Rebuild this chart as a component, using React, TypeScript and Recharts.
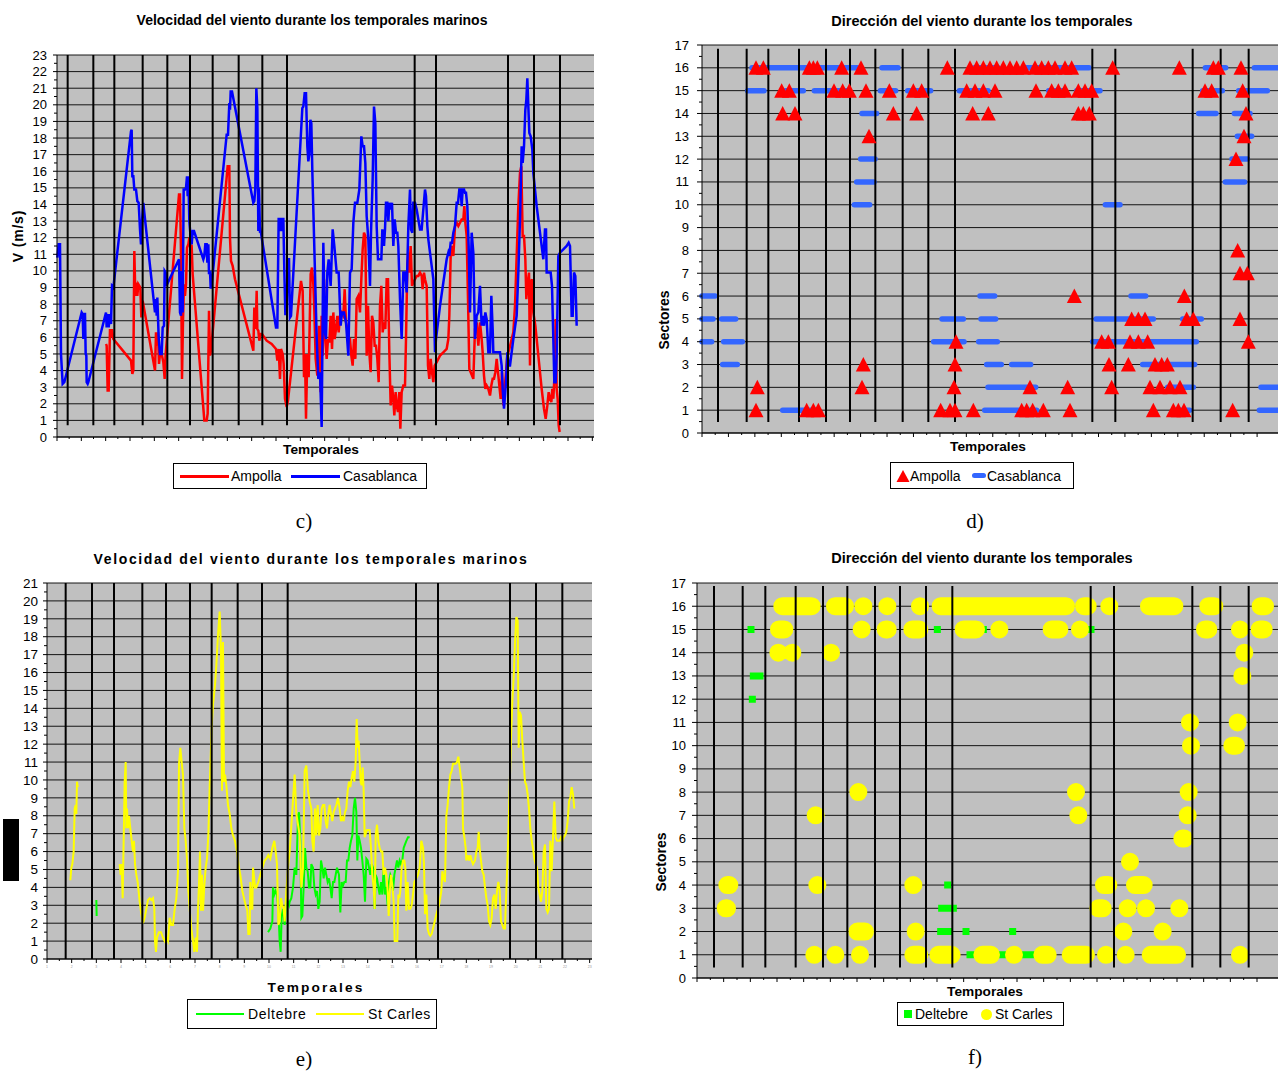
import React from "react";
import { ComposedChart, Line, XAxis, YAxis, CartesianGrid } from "recharts";

const FONT = "'Liberation Sans', Arial, Helvetica, sans-serif";
const SERIF = "'Liberation Serif', 'Times New Roman', serif";
const GRAY = "#C0C0C0";

type Pt = [number, number | null];
type Run = [number, number, number]; // [from hour, to hour, sector]

// ---------- c) wind speed (m/s), hourly record index ----------
const stormsC = [32, 109, 172, 257, 331, 399, 467, 545, 616, 690, 1073, 1137, 1353, 1431, 1509];
const ampollaV: Pt[] = [
  [147, 5.6], [149, 5.5], [152, 2.8], [155, 2.8], [159, 6.5], [162, 6.0], [165, 6.5], [169, 5.9], [222, 4.6], [226, 3.8],
  [229, 4.0], [232, 11.2], [235, 8.5], [238, 9.3], [241, 8.5], [244, 9.2], [247, 9.1], [250, 9.0], [253, 7.2], [257, 8.2],
  [294, 4.0], [297, 6.3], [300, 5.5], [303, 6.3], [306, 4.4], [309, 5], [314, 5], [319, 4.5], [323, 3.5], [326, 5],
  [366, 14.6], [369, 14.6], [372, 11], [375, 3.5], [378, 7], [381, 9.2], [384, 8.5], [387, 9.2], [390, 11.4], [394, 11.6],
  [397, 12], [401, 11.5], [404, 11.5], [407, 9.8], [442, 1.0], [446, 1.0], [449, 1.0], [452, 1.4], [456, 7.6], [459, 4.9],
  [462, 5.2], [512, 16.3], [517, 16.3], [519, 12], [522, 10.6], [527, 10.3], [534, 9.5], [589, 5.2], [592, 7.8], [596, 6.5],
  [599, 8.8], [601, 6.5], [604, 6.4], [607, 5.8], [611, 6.2], [615, 6.2], [629, 5.8], [644, 5.6], [657, 5.3], [661, 4.6],
  [665, 5.3], [669, 3.5], [672, 5.3], [677, 5.0], [680, 4.4], [684, 2.3], [689, 1.8], [693, 2.2], [732, 9.4], [737, 8.8],
  [741, 3.6], [744, 5], [747, 1.1], [751, 5], [755, 3.6], [761, 9.8], [765, 10.2], [769, 9.2], [772, 7.6], [776, 4.7],
  [781, 3.7], [786, 6.7], [789, 3.9], [791, 2.7], [794, 7.3], [797, 4.9], [801, 9.5], [805, 5.9], [809, 4.7], [813, 5.9],
  [817, 5.7], [821, 7.3], [825, 5.3], [829, 7.5], [833, 5.9], [837, 6.5], [841, 7.3], [845, 6.3], [849, 7.3], [854, 7.5],
  [859, 7.3], [863, 8.9], [867, 6.9], [871, 6.5], [875, 5.9], [879, 5.9], [883, 4.9], [887, 4.3], [891, 5.9], [895, 4.7],
  [899, 8.3], [904, 8.5], [909, 7.5], [913, 9.5], [917, 11.3], [921, 12.3], [925, 12.1], [929, 4.9], [933, 7.9], [937, 5.1],
  [941, 3.9], [945, 7.3], [949, 6.9], [953, 5.5], [957, 5.5], [961, 4.7], [965, 3.3], [969, 7.9], [973, 9.1], [977, 6.3],
  [981, 6.9], [985, 6.5], [989, 9.5], [993, 9.5], [997, 5.1], [1001, 1.9], [1005, 3.1], [1009, 2.3], [1012, 1.3], [1016, 2.7],
  [1019, 1.9], [1023, 1.5], [1027, 2.7], [1030, 0.5], [1034, 2.7], [1039, 3.1], [1044, 3.1], [1047, 5.9], [1051, 10.3], [1054, 11.1],
  [1057, 9.9], [1061, 11.5], [1065, 9.1], [1069, 9.3], [1074, 9.5], [1079, 9.7], [1084, 9.7], [1089, 9.9], [1094, 9.7], [1097, 8.9],
  [1101, 9.9], [1104, 9.5], [1109, 9.1], [1113, 4.3], [1117, 3.5], [1121, 4.7], [1125, 3.9], [1129, 3.3], [1133, 4.3], [1139, 4.5],
  [1149, 4.9], [1159, 5.1], [1169, 5.3], [1174, 5.9], [1177, 7.3], [1181, 10.9], [1185, 11.5], [1189, 10.9], [1194, 12.7], [1199, 12.9],
  [1204, 12.7], [1209, 12.9], [1214, 13.1], [1219, 13.1], [1222, 13.9], [1225, 12.9], [1229, 12.1], [1233, 8.3], [1237, 4.1], [1241, 3.9],
  [1245, 3.7], [1249, 3.5], [1254, 6.5], [1259, 6.9], [1264, 5.5], [1269, 6.9], [1274, 5.9], [1277, 5.1], [1281, 3.7], [1285, 2.9],
  [1289, 3.1], [1294, 2.9], [1299, 2.5], [1303, 3.1], [1307, 3.5], [1311, 3.5], [1315, 3.9], [1319, 4.7], [1324, 3.7], [1327, 3.1],
  [1331, 2.3], [1335, 3.9], [1339, 1.9], [1343, 2.9], [1347, 3.9], [1351, 4.9], [1357, 5.3], [1364, 5.9], [1369, 6.3], [1374, 7.9],
  [1379, 10.9], [1384, 13.9], [1389, 15.9], [1393, 16.3], [1397, 12.1], [1401, 12.1], [1405, 10.7], [1408, 8.3], [1412, 9.3], [1416, 9.9],
  [1419, 4.3], [1422, 9.3], [1425, 9.5], [1429, 7.5], [1435, 6.7], [1441, 5.5], [1447, 4.3], [1454, 2.9], [1461, 1.7], [1466, 1.1],
  [1471, 1.9], [1475, 2.7], [1479, 2.3], [1483, 2.1], [1486, 2.9], [1489, 2.3], [1493, 3.9], [1496, 7.1], [1499, 2.9], [1502, 2.3],
  [1505, 0.7], [1508, 0.3],
];
const casablancaV: Pt[] = [
  [1, 10.8], [5, 11.6], [9, 11.6], [12, 5], [17, 3.2], [22, 3.3], [74, 7.5], [77, 7.4], [79, 5.9], [82, 7.4],
  [84, 7.4], [86, 5.0], [88, 4.9], [89, 3.3], [92, 3.2], [94, 3.3], [147, 7.5], [149, 6.6], [152, 7.4], [155, 6.6],
  [159, 7.4], [162, 6.8], [165, 9.1], [169, 9.0], [222, 18.4], [224, 18.5], [226, 15.7], [229, 15.7], [232, 14.9], [237, 14.9],
  [241, 14.2], [245, 14.1], [249, 12.5], [252, 11.6], [255, 13], [259, 14.1], [262, 13.5], [294, 7.5], [297, 8.3], [299, 7.3],
  [301, 8.4], [305, 6], [309, 5], [314, 5], [317, 6.6], [321, 6.7], [323, 10], [326, 9.9], [328, 9.1], [366, 10.7],
  [369, 7.5], [372, 7.3], [374, 10], [377, 7.5], [380, 14.9], [384, 14.9], [387, 15], [390, 15.7], [392, 14.5], [394, 15.7],
  [397, 13], [401, 12], [404, 11.6], [407, 12.4], [411, 12.4], [439, 10.7], [442, 10.9], [445, 11.6], [449, 11.6], [451, 10.5],
  [454, 11.6], [456, 9.8], [459, 10], [461, 9], [463, 9], [509, 18.2], [513, 18.2], [517, 20.1], [519, 19.7], [521, 20.8],
  [525, 20.8], [589, 14.1], [592, 14.2], [595, 15], [598, 21], [601, 19.8], [604, 12.4], [606, 15], [609, 12.3], [611, 12.4],
  [657, 6.6], [661, 6.6], [665, 13.2], [669, 12.4], [672, 13.2], [676, 12.4], [679, 13.2], [682, 10], [685, 7.4], [689, 7.4],
  [692, 10.7], [696, 10.7], [699, 7.2], [702, 7.3], [736, 19.8], [739, 19.9], [743, 20.7], [747, 20.7], [751, 17.5], [754, 16.6],
  [757, 17], [760, 19.1], [763, 18.9], [766, 16], [779, 6], [784, 3.5], [789, 3.9], [794, 0.6], [799, 11.7], [804, 6.3],
  [807, 5.9], [811, 9.9], [815, 10.7], [821, 9.1], [827, 12.5], [832, 11.5], [839, 9.9], [845, 9.9], [851, 6.7], [855, 7.5],
  [861, 7.5], [867, 6.9], [874, 4.9], [879, 9.9], [884, 10.1], [889, 12.9], [894, 14.1], [901, 14.1], [907, 14.9], [913, 18.1],
  [917, 17.5], [921, 17.5], [925, 16.5], [929, 13.3], [934, 11.9], [939, 9.1], [942, 12.3], [947, 15.5], [951, 19.9], [955, 18.9],
  [959, 12.7], [963, 10.7], [969, 10.7], [973, 10.7], [976, 12.5], [981, 11.5], [984, 12.5], [987, 14.1], [991, 14.1], [994, 13],
  [997, 14.1], [1001, 13.7], [1005, 14.1], [1009, 11.5], [1013, 13.1], [1017, 12.3], [1021, 12.3], [1024, 11.5], [1029, 8.3], [1034, 5.9],
  [1039, 9.9], [1044, 9.9], [1049, 8.7], [1054, 12.7], [1059, 14.9], [1062, 12.5], [1066, 12.3], [1069, 14.1], [1074, 14.1], [1079, 13.7],
  [1084, 13.1], [1089, 12.5], [1094, 12.5], [1099, 13.7], [1104, 14.9], [1107, 14.5], [1111, 12.7], [1114, 11.9], [1119, 11.1], [1124, 10.3],
  [1129, 9.5], [1134, 5.1], [1137, 5.9], [1149, 7.9], [1159, 9.3], [1169, 10.7], [1174, 11.1], [1177, 10.9], [1181, 11.7], [1185, 11.7],
  [1189, 12.3], [1194, 12.7], [1199, 14.1], [1203, 14.1], [1207, 14.9], [1211, 14.9], [1214, 13.9], [1217, 14.9], [1221, 14.9], [1224, 14.7],
  [1227, 14.7], [1231, 13.9], [1235, 11.5], [1239, 7.5], [1244, 12.3], [1249, 11.1], [1254, 5.9], [1259, 7.3], [1264, 7.5], [1269, 9.1],
  [1274, 6.7], [1277, 7.3], [1281, 6.7], [1285, 7.5], [1289, 7.1], [1294, 5.1], [1299, 5.1], [1303, 8.5], [1307, 6.5], [1309, 5.1],
  [1329, 5.1], [1334, 4.3], [1337, 2.9], [1341, 1.7], [1344, 2.5], [1347, 3.3], [1351, 5.1], [1355, 4.3], [1359, 4.3], [1369, 5.9],
  [1379, 7.3], [1384, 9.9], [1389, 13.1], [1394, 17.5], [1397, 16.5], [1401, 17.5], [1405, 19.7], [1408, 20.3], [1411, 21.6], [1414, 19.9],
  [1417, 18.3], [1421, 18.1], [1426, 17.3], [1429, 15.9], [1439, 13.9], [1449, 12.3], [1459, 10.7], [1464, 12.5], [1467, 12.5], [1469, 9.9],
  [1474, 9.9], [1481, 9.9], [1485, 9.1], [1489, 5.9], [1492, 3.3], [1496, 3.3], [1499, 4.9], [1504, 10.9], [1509, 11.1], [1519, 11.3],
  [1529, 11.5], [1535, 11.7], [1539, 11.5], [1544, 7.3], [1547, 7.3], [1551, 9.9], [1555, 9.7], [1559, 6.7],
];

// ---------- d) wind direction sectors ----------
const stormsD = [48, 134, 199, 291, 372, 444, 520, 602, 679, 759, 1171, 1240, 1472, 1556, 1640];
const ampollaDir: [number, number][] = [
  [162, 16], [184, 16], [322, 16], [334, 16], [346, 16], [419, 16], [477, 16], [736, 16], [804, 16], [824, 16], [844, 16], [864, 16],
  [884, 16], [904, 16], [924, 16], [944, 16], [964, 16], [999, 16], [1019, 16], [1039, 16], [1059, 16], [1089, 16], [1109, 16],
  [1232, 16], [1432, 16], [1534, 16], [1549, 16], [1617, 16],
  [239, 15], [262, 15], [396, 15], [422, 15], [442, 15], [492, 15], [562, 15], [634, 15], [659, 15], [794, 15], [819, 15], [844, 15],
  [879, 15], [1002, 15], [1049, 15], [1069, 15], [1089, 15], [1129, 15], [1149, 15], [1169, 15], [1509, 15], [1529, 15], [1622, 15],
  [242, 14], [279, 14], [574, 14], [644, 14], [812, 14], [859, 14], [1129, 14], [1144, 14], [1162, 14], [1632, 14],
  [501, 13], [1626, 13], [1602, 12], [1607, 8], [1614, 7], [1636, 7], [1117, 6], [1447, 6],
  [1289, 5], [1309, 5], [1329, 5], [1454, 5], [1474, 5], [1614, 5],
  [762, 4], [1199, 4], [1219, 4], [1284, 4], [1309, 4], [1337, 4], [1639, 4],
  [484, 3], [759, 3], [1221, 3], [1279, 3], [1359, 3], [1379, 3], [1396, 3],
  [166, 2], [480, 2], [756, 2], [984, 2], [1097, 2], [1229, 2], [1344, 2], [1374, 2], [1404, 2], [1434, 2],
  [162, 1], [314, 1], [334, 1], [349, 1], [716, 1], [744, 1], [759, 1], [814, 1], [959, 1], [974, 1], [992, 1], [1024, 1],
  [1104, 1], [1354, 1], [1414, 1], [1429, 1], [1446, 1], [1592, 1],
];
const casablancaDir: Run[] = [
  [0, 39, 6], [0, 33, 5], [59, 101, 5], [0, 29, 4], [65, 121, 4], [62, 106, 3], [150, 466, 16], [540, 588, 16],
  [137, 186, 15], [250, 304, 15], [337, 436, 15], [535, 581, 15], [617, 686, 15], [480, 524, 14], [476, 519, 12],
  [464, 516, 11], [457, 503, 10], [242, 341, 1], [720, 784, 5], [695, 786, 4], [817, 888, 16], [965, 1161, 16],
  [1510, 1571, 16], [1657, 1728, 16], [772, 858, 15], [1040, 1084, 15], [1124, 1194, 15], [1502, 1561, 15], [1610, 1696, 15],
  [1490, 1542, 14], [1597, 1644, 14], [1606, 1649, 13], [1590, 1636, 12], [1570, 1628, 11], [1210, 1254, 10],
  [834, 878, 6], [1287, 1331, 6], [837, 881, 5], [1182, 1354, 5], [1442, 1498, 5], [830, 886, 4], [1172, 1483, 4],
  [854, 898, 3], [929, 986, 3], [1322, 1478, 3], [858, 1001, 2], [1397, 1474, 2], [1677, 1728, 2],
  [848, 1004, 1], [1414, 1463, 1], [1672, 1728, 1],
];

// ---------- e) wind speed (m/s) Deltebre / St Carles ----------
const stormsE = [56, 135, 201, 286, 357, 429, 494, 572, 645, 722, 1107, 1173, 1389, 1467, 1546];
const deltebreV: Pt[] = [
  [148, 3.3], [149, 2.4], [150, null],
  [663, 1.5], [670, 1.7], [676, 2.1], [678, 4.0], [682, 3.6], [686, 3.8], [690, 3.6], [694, 2.8], [698, 1.0], [701, 0.4],
  [704, 2.4], [708, 2.8], [713, 1.9], [718, 3.4], [722, 3.2], [726, 3.0], [728, 3.2], [733, 3.4], [738, 4.0], [743, 5.1],
  [748, 4.7], [753, 8.0], [756, 8.2], [760, 6.6], [763, 2.3], [766, 2.4], [770, 4.0], [774, 6.2], [778, 5.1], [782, 4.9],
  [786, 4.0], [790, 4.0], [793, 5.3], [798, 5.1], [802, 4.0], [806, 3.6], [810, 3.8], [814, 2.8], [818, 3.2], [822, 5.5],
  [826, 5.1], [830, 4.5], [834, 5.1], [838, 4.7], [842, 4.3], [846, 4.5], [850, 4.0], [854, 3.4], [858, 4.3], [862, 4.3],
  [866, 4.7], [870, 5.1], [876, 4.7], [880, 2.6], [884, 4.3], [888, 4.1], [892, 4.3], [896, 4.3], [900, 5.5], [904, 5.5],
  [908, 6.2], [912, 6.6], [916, 6.9], [920, 8.4], [924, 9.0], [928, 8.2], [931, 5.5], [934, 6.9], [938, 6.6], [942, 6.2],
  [946, 5.5], [950, 4.7], [954, 3.2], [958, 5.6], [962, 5.5], [966, 5.1], [970, 4.7], [974, 5.3], [978, 5.1], [983, 2.8],
  [986, 4.7], [990, 4.5], [994, 4.0], [998, 3.6], [1002, 4.3], [1006, 3.6], [1010, 5.1], [1014, 3.6], [1018, 4.0], [1022, 3.0],
  [1026, 4.3], [1030, 4.7], [1034, 4.5], [1038, 3.8], [1042, 4.7], [1046, 5.1], [1050, 5.5], [1054, 5.1], [1058, 5.5], [1062, 5.3],
  [1066, 5.5], [1070, 6.2], [1074, 6.4], [1078, 6.6], [1083, 6.8], [1088, 6.8],
];
const stCarlesV: Pt[] = [
  [70, 4.4], [73, 5.1], [76, 5.3], [80, 6.0], [83, 8.4], [86, 8.6], [88, 8.1], [90, 9.9], [92, 9.6], [93, null],
  [218, 5.3], [221, 4.7], [224, 5.3], [227, 3.4], [230, 6.6], [233, 9.9], [236, 11.0], [238, 7.3], [240, 8.4], [243, 7.3],
  [246, 8.0], [250, 7.3], [254, 6.6], [258, 6.0], [261, 6.6], [264, 5.3], [268, 4.7], [272, 4.3], [278, 3.2], [283, 2.5],
  [288, 2.0], [293, 2.3], [298, 2.8], [303, 3.3], [308, 3.4], [313, 3.3], [318, 3.4], [322, 2.8], [324, 1.0], [327, 0.4],
  [330, 1.2], [336, 1.5], [342, 1.5], [348, 1.2], [353, 1.0], [358, 1.2], [363, 1.0], [368, 2.3], [373, 1.9], [378, 1.9],
  [383, 2.8], [388, 3.4], [393, 4.9], [396, 10.9], [400, 11.8], [404, 11.0], [408, 10.3], [412, 7.3], [416, 6.6], [420, 5.6],
  [424, 3.8], [428, 2.8], [433, 1.7], [438, 1.0], [442, 0.4], [446, 1.2], [450, 0.4], [453, 2.8], [456, 4.2], [459, 6.0],
  [462, 2.7], [465, 4.7], [468, 2.7], [472, 4.1], [476, 5.1], [480, 5.6], [484, 6.9], [488, 9.6], [494, 12.9], [498, 14.2],
  [504, 15.3], [508, 16.4], [513, 18.1], [518, 19.4], [522, 17.2], [525, 9.4], [528, 17.7], [531, 9.9], [534, 10.3], [538, 9.7],
  [543, 8.6], [548, 8.1], [553, 7.3], [558, 6.9], [564, 6.6], [570, 6.0], [576, 5.1], [580, 4.7], [586, 3.8], [591, 3.4],
  [596, 3.0], [601, 2.7], [604, 1.4], [608, 1.4], [610, 4.3], [613, 2.8], [616, 2.8], [618, 5.1], [621, 4.6], [624, 4.0],
  [628, 4.0], [634, 4.3], [640, 4.7], [646, 5.1], [653, 5.5], [658, 5.6], [664, 5.8], [670, 5.6], [676, 6.2], [682, 6.6],
  [686, 6.0], [690, 5.3], [694, 1.9], [698, 2.1], [702, 3.4], [706, 3.0], [710, 2.8], [713, 2.1], [718, 3.8], [723, 5.1],
  [728, 6.0], [743, 10.3], [748, 8.1], [758, 6.9], [763, 4.0], [768, 5.1], [773, 10.5], [778, 10.8], [783, 9.4], [788, 8.8],
  [793, 8.4], [796, 6.6], [800, 6.0], [804, 8.4], [808, 6.9], [812, 8.6], [816, 6.9], [820, 7.3], [824, 8.4], [828, 8.6],
  [832, 8.6], [836, 7.7], [840, 7.3], [844, 8.1], [848, 8.6], [852, 8.1], [856, 7.7], [860, 8.2], [864, 8.4], [868, 8.6],
  [873, 9.0], [878, 8.4], [882, 7.7], [886, 7.9], [890, 7.7], [894, 8.2], [898, 8.4], [902, 9.4], [906, 9.9], [910, 9.6],
  [914, 10.1], [918, 10.5], [922, 9.9], [926, 11.0], [929, 13.4], [932, 11.8], [935, 12.2], [938, 11.0], [941, 9.9], [944, 9.7],
  [947, 10.7], [950, 9.4], [953, 6.8], [956, 7.0], [960, 7.2], [964, 7.2], [968, 7.2], [972, 6.2], [976, 4.7], [980, 4.0],
  [983, 2.8], [986, 6.9], [990, 7.5], [994, 6.6], [998, 6.2], [1002, 6.0], [1006, 6.0], [1010, 4.7], [1014, 5.1], [1018, 4.7],
  [1022, 3.8], [1025, 2.4], [1028, 3.6], [1032, 4.7], [1036, 4.1], [1040, 3.2], [1043, 1.0], [1048, 1.0], [1051, 1.0], [1054, 3.6],
  [1057, 3.4], [1060, 3.8], [1064, 5.1], [1068, 5.5], [1072, 5.5], [1075, 5.1], [1078, 2.7], [1082, 4.3], [1086, 2.8], [1090, 2.8],
  [1094, 3.0], [1098, 3.6], [1102, 4.3], [1113, 4.7], [1118, 5.1], [1123, 6.6], [1128, 6.2], [1131, 5.3], [1134, 2.5], [1138, 3.6],
  [1142, 1.7], [1146, 1.4], [1150, 1.3], [1154, 1.4], [1158, 1.7], [1163, 2.1], [1168, 2.5], [1173, 2.8], [1178, 3.2], [1183, 3.8],
  [1186, 4.9], [1190, 4.5], [1194, 4.3], [1198, 8.0], [1202, 8.6], [1206, 9.6], [1210, 10.3], [1214, 10.5], [1218, 10.9], [1222, 10.9],
  [1226, 10.9], [1230, 11.0], [1234, 11.3], [1238, 10.7], [1242, 10.1], [1246, 9.6], [1248, 7.3], [1252, 6.8], [1256, 6.2], [1258, 5.5],
  [1262, 5.8], [1266, 5.5], [1270, 5.8], [1274, 5.5], [1278, 5.3], [1284, 5.5], [1288, 6.0], [1292, 6.2], [1295, 7.1], [1298, 6.2],
  [1302, 5.5], [1306, 4.9], [1310, 4.7], [1314, 4.0], [1318, 3.4], [1322, 3.0], [1326, 2.1], [1330, 1.9], [1334, 2.3], [1338, 3.4],
  [1342, 3.6], [1346, 2.8], [1350, 3.8], [1354, 4.3], [1358, 3.8], [1362, 2.1], [1366, 1.9], [1370, 1.7], [1374, 1.7], [1376, 2.8],
  [1380, 4.7], [1384, 6.9], [1388, 9.6], [1392, 12.3], [1396, 14.4], [1400, 15.7], [1404, 17.7], [1408, 19.1], [1412, 18.9], [1415, 11.8],
  [1418, 13.8], [1422, 13.6], [1426, 12.2], [1430, 11.0], [1434, 9.9], [1438, 9.7], [1442, 9.2], [1446, 8.4], [1450, 7.3], [1454, 6.6],
  [1458, 6.2], [1462, 5.6], [1466, 5.3], [1470, 5.1], [1474, 4.0], [1478, 3.6], [1482, 3.2], [1486, 3.8], [1490, 6.0], [1494, 6.4],
  [1498, 2.8], [1502, 2.6], [1506, 2.8], [1510, 6.6], [1514, 4.9], [1518, 6.8], [1522, 8.8], [1526, 6.8], [1530, 6.6], [1534, 6.6],
  [1538, 6.6], [1542, 6.8], [1546, 6.6], [1550, 6.8], [1554, 6.9], [1558, 7.1], [1562, 7.7], [1566, 8.8], [1570, 9.0], [1574, 9.6],
  [1578, 9.2], [1582, 8.4],
];

// ---------- f) wind direction sectors Deltebre / St Carles ----------
const stormsF = [51, 137, 205, 296, 378, 451, 534, 609, 687, 766, 1181, 1251, 1486, 1570, 1655];
const deltebreDir: Run[] = [
  [162, 162, 15], [721, 721, 15], [859, 859, 15], [1182, 1182, 15], [169, 189, 13], [166, 166, 12], [752, 752, 4],
  [734, 769, 3], [731, 757, 2], [807, 807, 2], [947, 947, 2], [819, 834, 1], [909, 929, 1], [979, 1009, 1],
];
const stCarlesDir: Run[] = [
  [256, 344, 16], [414, 444, 16], [499, 499, 16], [571, 571, 16], [669, 669, 16], [731, 1107, 16], [1161, 1172, 16],
  [1237, 1237, 16], [1356, 1432, 16], [1534, 1552, 16], [1691, 1704, 16],
  [246, 262, 15], [494, 494, 15], [566, 572, 15], [646, 667, 15], [800, 837, 15], [907, 907, 15], [1064, 1087, 15],
  [1149, 1149, 15], [1524, 1534, 15], [1629, 1629, 15], [1688, 1700, 15],
  [244, 244, 14], [286, 286, 14], [402, 402, 14], [1642, 1642, 14], [1636, 1636, 13],
  [1479, 1479, 11], [1622, 1622, 11], [1482, 1482, 10], [1606, 1617, 10],
  [484, 484, 8], [1137, 1137, 8], [1475, 1475, 8], [356, 356, 7], [1144, 1144, 7], [1472, 1472, 7],
  [1456, 1462, 6], [1299, 1299, 5],
  [91, 97, 4], [361, 361, 4], [649, 649, 4], [1221, 1234, 4], [1314, 1340, 4],
  [86, 90, 3], [1204, 1217, 3], [1292, 1292, 3], [1347, 1347, 3], [1447, 1447, 3],
  [481, 504, 2], [656, 656, 2], [1279, 1279, 2], [1397, 1397, 2],
  [352, 352, 1], [415, 415, 1], [489, 489, 1], [649, 667, 1], [724, 764, 1], [856, 882, 1], [951, 951, 1],
  [1036, 1052, 1], [1121, 1167, 1], [1227, 1227, 1], [1286, 1286, 1], [1361, 1440, 1], [1629, 1629, 1],
];

const range = (n: number, step = 1) => Array.from({ length: n }, (_, i) => +(i * step).toFixed(1));
const ySpeedC = range(24);
const ySpeedE = range(22);
const ySector = range(18);

// helpers building series rows
const rows = (pts: Pt[]) => pts.map(([x, v]) => ({ x, v }));
const runRows = (rs: Run[]) =>
  rs.flatMap(([a, b, s]) => [{ x: a, v: s as number | null }, { x: b, v: s }, { x: b, v: null }]);
const stormRows = (xs: number[], lo: number, hi: number) =>
  xs.flatMap((x) => [{ x, v: lo as number | null }, { x, v: hi }, { x, v: null }]);

const triDot = (p: any) =>
  p.cx == null || p.cy == null ? (
    <g key={p.key} />
  ) : (
    <polygon
      key={p.key}
      points={`${p.cx},${p.cy - 7.5} ${p.cx + 7.5},${p.cy + 7} ${p.cx - 7.5},${p.cy + 7}`}
      fill="#FF0000"
    />
  );

type PanelProps = {
  left: number;
  top: number;
  width: number;
  height: number;
  margin: { top: number; right: number; bottom: number; left: number };
  xMax: number;
  xTicks: number[];
  xAxisH: number;
  xLabels?: boolean;
  yMax: number;
  yTicks: number[];
  yTickSize: number;
  yTickMargin: number;
  yFont: number;
  children: React.ReactNode;
};

const Y_W = 30;

function Panel(c: PanelProps) {
  const plotH = c.height - c.margin.top - c.margin.bottom - c.xAxisH;
  const plotW = c.width - c.margin.left - c.margin.right - Y_W;
  const unit = plotH / c.yMax;
  const halfX = ((c.xTicks[1] - c.xTicks[0]) / c.xMax) * plotW * 0.5;

  const yTick = (p: any) => {
    const v = p.payload.value;
    const ax = p.x + c.yTickSize + c.yTickMargin;
    return (
      <g>
        <text x={p.x} y={p.y} dy={c.yFont * 0.35} textAnchor="end" fontSize={c.yFont} fontFamily={FONT} fill="#000">
          {v}
        </text>
        {v < c.yMax && <line x1={ax - 3} x2={ax} y1={p.y - unit / 2} y2={p.y - unit / 2} stroke="#000" />}
      </g>
    );
  };
  const xTick = (p: any) => {
    const ay = p.y - 4 - 1;
    return (
      <g>
        {p.index < c.xTicks.length - 1 && (
          <line x1={p.x + halfX} x2={p.x + halfX} y1={ay} y2={ay + 2} stroke="#000" />
        )}
        {c.xLabels && (
          <text x={p.x} y={p.y} dy={4} textAnchor="middle" fontSize={3.5} fontFamily={FONT} fill="#999">
            {p.index + 1}
          </text>
        )}
      </g>
    );
  };

  return (
    <div style={{ position: "absolute", left: c.left, top: c.top }}>
      <ComposedChart width={c.width} height={c.height} margin={c.margin}>
        <CartesianGrid fill={GRAY} stroke="#000" strokeOpacity={0.9} vertical={false} />
        <XAxis
          type="number"
          dataKey="x"
          domain={[0, c.xMax]}
          ticks={c.xTicks}
          interval={0}
          height={c.xAxisH}
          axisLine={{ stroke: "#000" }}
          tickLine={{ stroke: "#000" }}
          tickSize={4}
          tickMargin={1}
          tick={xTick}
        />
        <YAxis
          type="number"
          domain={[0, c.yMax]}
          ticks={c.yTicks}
          interval={0}
          width={Y_W}
          axisLine={{ stroke: "#000" }}
          tickLine={{ stroke: "#000" }}
          tickSize={c.yTickSize}
          tickMargin={c.yTickMargin}
          tick={yTick}
        />
        {c.children}
      </ComposedChart>
    </div>
  );
}

type TxtProps = {
  x: number;
  y: number;
  size: number;
  bold?: boolean;
  rot?: boolean;
  ls?: number;
  family?: string;
  children: React.ReactNode;
};
const Txt = ({ x, y, size, bold, rot, ls, family, children }: TxtProps) => (
  <div
    style={{
      position: "absolute",
      left: x,
      top: y,
      transform: `translate(-50%, -50%)${rot ? " rotate(-90deg)" : ""}`,
      fontSize: size,
      fontWeight: bold ? 700 : 400,
      letterSpacing: ls ?? 0,
      whiteSpace: "nowrap",
      lineHeight: 1,
      fontFamily: family ?? FONT,
      color: "#000",
    }}
  >
    {children}
  </div>
);

const LegendBox = ({ x, y, w, h, children }: { x: number; y: number; w: number; h: number; children: React.ReactNode }) => (
  <div
    style={{
      position: "absolute",
      left: x,
      top: y,
      width: w,
      height: h,
      border: "1px solid #000",
      boxSizing: "border-box",
      background: "#fff",
      fontFamily: FONT,
    }}
  >
    {children}
  </div>
);
const LItem = ({ x, ls, children }: { x: number; ls?: number; children: React.ReactNode }) => (
  <div
    style={{
      position: "absolute",
      left: x,
      top: "50%",
      transform: "translateY(-50%)",
      fontSize: 14,
      lineHeight: 1,
      whiteSpace: "nowrap",
      letterSpacing: ls ?? 0,
    }}
  >
    {children}
  </div>
);
const LSwatch = ({ x, w, h, color, radius }: { x: number; w: number; h: number; color: string; radius?: number }) => (
  <div
    style={{
      position: "absolute",
      left: x,
      top: "50%",
      width: w,
      height: h,
      marginTop: -h / 2,
      background: color,
      borderRadius: radius ?? 0,
    }}
  />
);

const noAnim = { isAnimationActive: false, dot: false, activeDot: false, legendType: "none" as const };

export default function App() {
  return (
    <div
      style={{
        position: "absolute",
        left: 0,
        top: 0,
        width: 1278,
        height: 1073,
        background: "#fff",
        overflow: "hidden",
        fontFamily: FONT,
      }}
    >
      {/* c) */}
      <Panel
        left={0}
        top={0}
        width={600}
        height={445}
        margin={{ top: 55, right: 6, bottom: 0, left: 27 }}
        xMax={1611}
        xTicks={range(23, 73)}
        xAxisH={8}
        yMax={23}
        yTicks={ySpeedC}
        yTickSize={4}
        yTickMargin={6}
        yFont={13}
      >
        <Line data={rows(ampollaV)} dataKey="v" stroke="#FF0000" strokeWidth={2.5} {...noAnim} />
        <Line data={rows(casablancaV)} dataKey="v" stroke="#0000FF" strokeWidth={2.5} {...noAnim} />
        <Line data={stormRows(stormsC, 0.7, 23)} dataKey="v" stroke="#000" strokeWidth={2} {...noAnim} />
      </Panel>

      {/* d) */}
      <Panel
        left={640}
        top={0}
        width={638}
        height={440}
        margin={{ top: 45, right: 0, bottom: 0, left: 32 }}
        xMax={1728}
        xTicks={range(22, 79.3)}
        xAxisH={7}
        yMax={17}
        yTicks={ySector}
        yTickSize={5}
        yTickMargin={8}
        yFont={13}
      >
        <Line data={rows(ampollaDir)} dataKey="v" stroke="none" isAnimationActive={false} activeDot={false} dot={triDot} legendType="none" />
        <Line data={runRows(casablancaDir)} dataKey="v" stroke="#3366FF" strokeWidth={5.5} strokeLinecap="round" {...noAnim} />
        <Line data={stormRows(stormsD, 0.48, 16.84)} dataKey="v" stroke="#000" strokeWidth={2} {...noAnim} />
      </Panel>

      {/* e) */}
      <Panel
        left={0}
        top={540}
        width={600}
        height={435}
        margin={{ top: 43, right: 8, bottom: 0, left: 17 }}
        xMax={1635}
        xTicks={range(23, 74)}
        xAxisH={16}
        xLabels
        yMax={21}
        yTicks={ySpeedE}
        yTickSize={4}
        yTickMargin={5}
        yFont={13.5}
      >
        <Line data={rows(deltebreV)} dataKey="v" stroke="#00FF00" strokeWidth={2} {...noAnim} />
        <Line data={rows(stCarlesV)} dataKey="v" stroke="#FFFF00" strokeWidth={2} {...noAnim} />
        <Line data={stormRows(stormsE, 0, 21)} dataKey="v" stroke="#000" strokeWidth={2} {...noAnim} />
      </Panel>

      {/* f) */}
      <Panel
        left={640}
        top={540}
        width={638}
        height={445}
        margin={{ top: 43, right: 0, bottom: 0, left: 27 }}
        xMax={1743}
        xTicks={range(22, 80)}
        xAxisH={7}
        yMax={17}
        yTicks={ySector}
        yTickSize={5}
        yTickMargin={6}
        yFont={13}
      >
        <Line data={runRows(deltebreDir)} dataKey="v" stroke="#00FF00" strokeWidth={7} strokeLinecap="square" {...noAnim} />
        <Line data={runRows(stCarlesDir)} dataKey="v" stroke="#FFFF00" strokeWidth={18} strokeLinecap="round" {...noAnim} />
        <Line data={stormRows(stormsF, 0.45, 16.87)} dataKey="v" stroke="#000" strokeWidth={2} {...noAnim} />
      </Panel>

      {/* titles and axis labels */}
      <Txt x={312} y={20} size={14} bold>Velocidad del viento durante los temporales marinos</Txt>
      <Txt x={982} y={21} size={14.5} bold>Dirección del viento durante los temporales</Txt>
      <Txt x={311} y={559} size={14} bold ls={1.65}>Velocidad del viento durante los temporales marinos</Txt>
      <Txt x={982} y={558} size={14.5} bold>Dirección del viento durante los temporales</Txt>

      <Txt x={18} y={236} size={14} bold rot ls={0.8}>V (m/s)</Txt>
      <Txt x={664} y={320} size={14} bold rot>Sectores</Txt>
      <Txt x={661} y={862} size={14} bold rot>Sectores</Txt>

      <Txt x={321} y={450} size={13.7} bold>Temporales</Txt>
      <Txt x={988} y={447} size={13.7} bold>Temporales</Txt>
      <Txt x={316} y={988} size={13.7} bold ls={2.1}>Temporales</Txt>
      <Txt x={985} y={992} size={13.7} bold>Temporales</Txt>

      {/* legends */}
      <LegendBox x={173} y={463} w={254} h={26}>
        <LSwatch x={6} w={49} h={3} color="#FF0000" />
        <LItem x={57}>Ampolla</LItem>
        <LSwatch x={117} w={49} h={3} color="#0000FF" />
        <LItem x={169}>Casablanca</LItem>
      </LegendBox>
      <LegendBox x={890} y={462} w={184} h={27}>
        <svg style={{ position: "absolute", left: 5, top: 6 }} width={14} height={14}>
          <polygon points="7,1 13.5,13 0.5,13" fill="#FF0000" />
        </svg>
        <LItem x={19}>Ampolla</LItem>
        <LSwatch x={81} w={14} h={5} color="#3366FF" radius={2.5} />
        <LItem x={96}>Casablanca</LItem>
      </LegendBox>
      <LegendBox x={187} y={999} w={250} h={30}>
        <LSwatch x={8} w={48} h={2} color="#00FF00" />
        <LItem x={60} ls={0.7}>Deltebre</LItem>
        <LSwatch x={128} w={48} h={2} color="#FFFF00" />
        <LItem x={180} ls={0.6}>St Carles</LItem>
      </LegendBox>
      <LegendBox x={897} y={1002} w={167} h={24}>
        <LSwatch x={6} w={8} h={8} color="#00FF00" />
        <LItem x={17}>Deltebre</LItem>
        <LSwatch x={83} w={11} h={11} color="#FFFF00" radius={6} />
        <LItem x={97}>St Carles</LItem>
      </LegendBox>

      {/* panel letters */}
      <Txt x={304} y={521} size={21} family={SERIF}>c)</Txt>
      <Txt x={975} y={521} size={21} family={SERIF}>d)</Txt>
      <Txt x={304} y={1059} size={21} family={SERIF}>e)</Txt>
      <Txt x={975} y={1057} size={21} family={SERIF}>f)</Txt>

      {/* masked label block on panel e */}
      <div style={{ position: "absolute", left: 3, top: 819, width: 16, height: 62, background: "#000" }} />
    </div>
  );
}
